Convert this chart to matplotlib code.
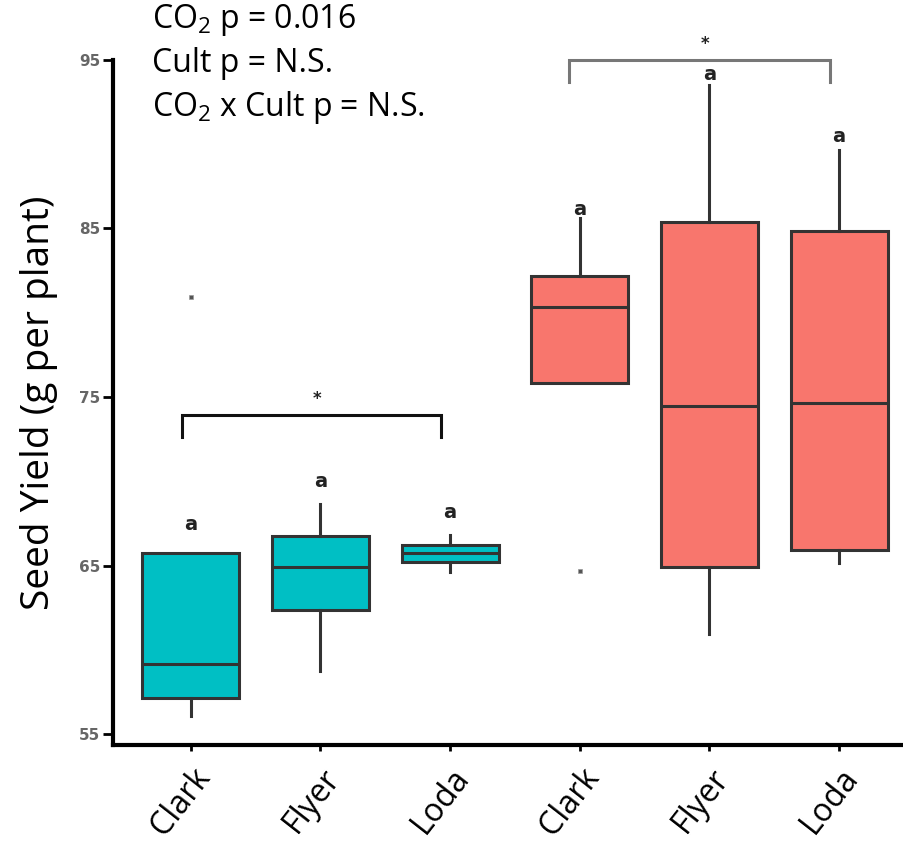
import matplotlib
matplotlib.use("Agg")
import matplotlib.pyplot as plt

plt.rcParams['font.family'] = ['Open Sans', 'DejaVu Sans']
plt.rcParams['mathtext.fontset'] = 'custom'
plt.rcParams['mathtext.rm'] = 'Open Sans'
plt.rcParams['mathtext.it'] = 'Open Sans'

# box stats (g per plant)
cultivars = ["Clark", "Flyer", "Loda", "Clark", "Flyer", "Loda"]
q1 = [57.15, 62.36, 65.19, 75.81, 64.91, 65.92]
med = [59.15, 64.89, 65.74, 80.32, 74.45, 74.62]
q3 = [65.72, 66.75, 66.20, 82.18, 85.39, 84.83]
whislo = [56.09, 58.76, 64.63, 75.81, 60.97, 65.13]
whishi = [65.72, 68.63, 66.81, 85.61, 93.52, 89.66]
fliers = [[80.93], [], [], [64.69], [], []]
letters = ["a", "a", "a", "a", "a", "a"]
letter_y = [67.46, 69.98, 68.15, 86.14, 94.11, 90.45]
colors = ["#00BFC4"] * 3 + ["#F8766D"] * 3

fig = plt.figure(figsize=(9.04, 8.41), dpi=100)
ax = fig.add_axes([0.125, 0.114, 0.875, 0.815])

stats = []
for i in range(len(cultivars)):
    stats.append(dict(med=med[i], q1=q1[i], q3=q3[i], whislo=whislo[i],
                      whishi=whishi[i], fliers=fliers[i], label=cultivars[i]))

bp = ax.bxp(stats, positions=range(len(cultivars)), widths=0.75, patch_artist=True,
            showcaps=False,
            boxprops=dict(edgecolor="#333333", linewidth=2.2),
            medianprops=dict(color="#333333", linewidth=2.2),
            whiskerprops=dict(color="#333333", linewidth=2.2),
            flierprops=dict(marker="s", markersize=2.5, markerfacecolor="#555555",
                            markeredgecolor="#999999", markeredgewidth=0.5))
for patch, c in zip(bp["boxes"], colors):
    patch.set_facecolor(c)

# letters above boxes
for i, (t, yv) in enumerate(zip(letters, letter_y)):
    ax.text(i, yv, t, ha="center", va="center", fontsize=14, fontweight="bold",
            family="DejaVu Sans", color="#222222")

# significance brackets
def bracket(x0, x1, y, h, color):
    ax.plot([x0, x0, x1, x1], [y - h, y, y, y - h], color=color, lw=2.2,
            clip_on=False, solid_joinstyle="miter")
    ax.text((x0 + x1) / 2 + 0.04, y + 0.95, "*", ha="center", va="center",
            fontsize=12, fontweight="bold", family="DejaVu Sans", color="#222222",
            clip_on=False)

bracket(-0.07, 1.93, 73.93, 1.3, "#111111")
bracket(2.92, 4.93, 95.0, 1.3, "#777777")

ax.set_xlim(-0.6, 5.5)
ax.set_ylim(54.35, 95)
ax.set_yticks([55, 65, 75, 85, 95])
ax.set_yticklabels(["55", "65", "75", "85", "95"], fontsize=11, fontweight="bold",
                   family="DejaVu Sans", color="#666666")
ax.set_xticks(range(len(cultivars)))
ax.set_xticklabels(cultivars, rotation=52, ha="right", rotation_mode="anchor",
                   fontsize=23)
ax.tick_params(axis="y", length=7, width=2, pad=2)
ax.tick_params(axis="x", length=4, width=2, pad=8)

for s in ["top", "right"]:
    ax.spines[s].set_visible(False)
ax.spines["left"].set_linewidth(3)
ax.spines["bottom"].set_linewidth(3)

ax.set_ylabel("Seed Yield (g per plant)", fontsize=28)
ax.yaxis.set_label_coords(-0.07, 0.5)

fig.text(0.168, 0.976, "CO$_2$ p = 0.016", fontsize=23, va="center", ha="left")
fig.text(0.168, 0.924, "Cult p = N.S.", fontsize=23, va="center", ha="left")
fig.text(0.168, 0.872, "CO$_2$ x Cult p = N.S.", fontsize=23, va="center", ha="left")

fig.savefig("out.png", dpi=100)
